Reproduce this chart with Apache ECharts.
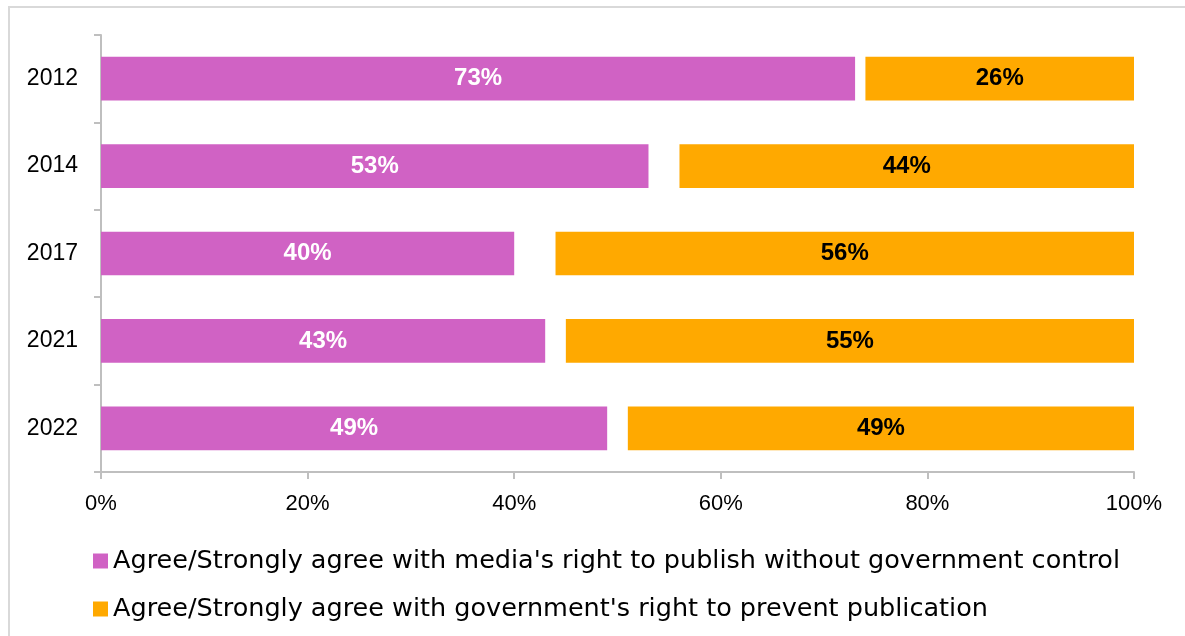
<!DOCTYPE html>
<html>
<head>
<meta charset="utf-8">
<script src="https://cdn.jsdelivr.net/npm/echarts@6/dist/echarts.min.js"></script>
<style>
html,body{margin:0;padding:0;background:#fff;}
#frame{position:absolute;left:8px;top:6px;width:1177px;height:630px;border-left:2px solid #d9d9d9;border-top:2px solid #d9d9d9;box-sizing:border-box;}
#chart{position:absolute;left:0;top:0;width:1185px;height:636px;}
</style>
</head>
<body>
<div id="frame"></div>
<div id="chart"></div>
<script>
const years = ['2012', '2014', '2017', '2021', '2022'];
const mediaRight = [73, 53, 40, 43, 49];
const govRight = [26, 44, 56, 55, 49];
const xTicks = [0, 20, 40, 60, 80, 100];
const seriesNames = [
  "Agree/Strongly agree with media's right to publish without government control",
  "Agree/Strongly agree with government's right to prevent publication"
];
const gap = years.map((y, i) => 100 - mediaRight[i] - govRight[i]);

const FONT = 'Liberation Sans';
const LFONT = 'DejaVu Sans';
const chart = echarts.init(document.getElementById('chart'));
chart.setOption({
  animation: false,
  textStyle: { fontFamily: FONT },
  grid: { left: 101, right: 51, top: 35, bottom: 164 },
  legend: {
    orient: 'vertical',
    left: 88,
    top: 543,
    itemWidth: 15,
    itemHeight: 15,
    itemGap: 22,
    icon: 'rect',
    data: seriesNames,
    textStyle: { fontFamily: LFONT, fontSize: 25.5, color: '#000' }
  },
  xAxis: {
    type: 'value',
    min: xTicks[0], max: xTicks[xTicks.length - 1], interval: 20,
    axisLine: { show: true, lineStyle: { color: '#bfbfbf', width: 2 } },
    axisTick: { show: true, length: 7, lineStyle: { color: '#bfbfbf', width: 2 } },
    splitLine: { show: false },
    axisLabel: { formatter: v => v + '%', fontSize: 22, color: '#000', margin: 21, fontFamily: FONT }
  },
  yAxis: {
    type: 'category',
    data: years,
    inverse: true,
    axisLine: { show: true, lineStyle: { color: '#bfbfbf', width: 2 } },
    axisTick: { show: true, length: 7, lineStyle: { color: '#bfbfbf', width: 2 } },
    axisLabel: { fontSize: 23, color: '#000', margin: 23, fontFamily: FONT, padding: [4, 0, 0, 0] }
  },
  series: [
    {
      name: seriesNames[0], type: 'bar', stack: 's', barWidth: '50%',
      data: mediaRight,
      itemStyle: { color: '#D062C4' },
      label: { show: true, position: 'inside', formatter: '{c}%', color: '#fff', fontWeight: 'bold', fontSize: 24, fontFamily: FONT, padding: [4, 0, 0, 0] }
    },
    {
      name: 'gap', type: 'bar', stack: 's', barWidth: '50%',
      data: gap,
      itemStyle: { color: 'rgba(0,0,0,0)' },
      silent: true
    },
    {
      name: seriesNames[1], type: 'bar', stack: 's', barWidth: '50%',
      data: govRight,
      itemStyle: { color: '#FFA900' },
      label: { show: true, position: 'inside', formatter: '{c}%', color: '#000', fontWeight: 'bold', fontSize: 24, fontFamily: FONT, padding: [4, 0, 0, 0] }
    }
  ]
});
</script>
</body>
</html>
